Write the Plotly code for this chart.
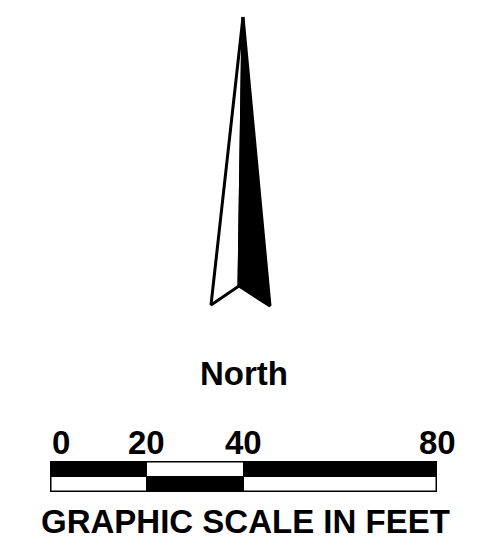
import plotly.graph_objects as go

# North arrow geometry (pixel space of the drawing)
arrow_left_x = [243, 211, 239, 243]
arrow_left_y = [17, 305, 286, 17]
arrow_right_x = [243, 239, 270, 243]
arrow_right_y = [17, 286, 306, 17]

# Graphic scale (feet)
seg_base = [0, 20, 40]
seg_len = [20, 20, 40]
upper_colors = ["black", "white", "black"]
lower_colors = ["white", "black", "white"]
tick_vals = [0, 20, 40, 80]
tick_text = ["0", "20", "40", "80"]
tick_anchor = ["left", "center", "center", "center"]

north_label = "North"
scale_title = "GRAPHIC SCALE IN FEET"

W, H = 492, 550
FONT = "Liberation Sans, Arial, sans-serif"

fig = go.Figure()

# arrow halves
fig.add_trace(go.Scatter(x=arrow_left_x, y=arrow_left_y, mode="lines", fill="toself",
                         fillcolor="white", line=dict(color="black", width=3),
                         hoverinfo="skip", showlegend=False))
fig.add_trace(go.Scatter(x=arrow_right_x, y=arrow_right_y, mode="lines", fill="toself",
                         fillcolor="black", line=dict(color="black", width=3),
                         hoverinfo="skip", showlegend=False))

# scale bar rows
fig.add_trace(go.Bar(x=seg_len, base=seg_base, y=[1.5] * 3, orientation="h", width=1,
                     marker=dict(color=upper_colors, line=dict(color="black", width=1)),
                     xaxis="x2", yaxis="y2", hoverinfo="skip", showlegend=False))
fig.add_trace(go.Bar(x=seg_len, base=seg_base, y=[0.5] * 3, orientation="h", width=1,
                     marker=dict(color=lower_colors, line=dict(color="black", width=1)),
                     xaxis="x2", yaxis="y2", hoverinfo="skip", showlegend=False))
# outer frame
fig.add_trace(go.Scatter(x=[0, tick_vals[-1], tick_vals[-1], 0, 0], y=[0, 0, 2, 2, 0],
                         mode="lines", line=dict(color="black", width=3), cliponaxis=False,
                         xaxis="x2", yaxis="y2", hoverinfo="skip", showlegend=False))

ann = []
for v, t, a in zip(tick_vals, tick_text, tick_anchor):
    ann.append(dict(x=v, y=442, xref="x2", yref="y", text=f"<b>{t}</b>", showarrow=False,
                    xanchor=a, yanchor="middle", font=dict(family=FONT, size=33, color="black")))
ann.append(dict(x=244, y=373, xref="x", yref="y", text=f"<b>{north_label}</b>", showarrow=False,
                xanchor="center", yanchor="middle", font=dict(family=FONT, size=33, color="black")))
ann.append(dict(x=245, y=521, xref="x", yref="y", text=f"<b>{scale_title}</b>", showarrow=False,
                xanchor="center", yanchor="middle", font=dict(family=FONT, size=33, color="black")))

fig.update_layout(
    width=W, height=H, margin=dict(l=0, r=0, t=0, b=0),
    paper_bgcolor="white", plot_bgcolor="rgba(0,0,0,0)",
    barmode="overlay", bargap=0,
    xaxis=dict(range=[0, W], visible=False, domain=[0, 1]),
    yaxis=dict(range=[H, 0], visible=False, domain=[0, 1]),
    xaxis2=dict(range=[0, 80], domain=[50 / W, 437 / W], visible=False, anchor="y2"),
    yaxis2=dict(range=[0, 2], domain=[(H - 492) / H, (H - 461) / H], visible=False, anchor="x2"),
    annotations=ann,
)

fig.write_html("out.html", config={"displayModeBar": False},
               post_script="document.body.style.margin='0';document.body.style.overflow='hidden';")
